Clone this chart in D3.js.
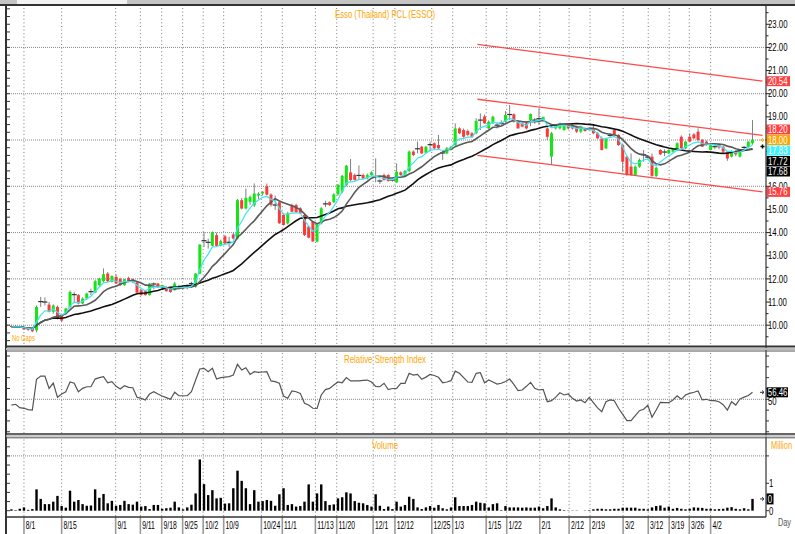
<!DOCTYPE html>
<html><head><meta charset="utf-8">
<script src="https://cdn.jsdelivr.net/npm/d3@7/dist/d3.min.js"></script>
<style>
body{margin:0;background:#fff;}
svg{display:block;}
text{font-family:"Liberation Sans",Arial,sans-serif;}
</style></head><body>
<svg id="c" width="795" height="534"></svg>
<script>
// ---------------- DATA ----------------
const opens = [9.97,9.97,9.95,9.93,9.88,9.86,9.78,11.00,11.01,10.89,10.58,10.79,10.43,10.50,10.79,11.30,11.30,10.94,11.15,11.45,
11.41,11.73,11.90,12.23,11.87,12.09,11.99,11.73,12.04,11.99,11.85,11.51,11.47,11.30,11.80,11.80,11.63,11.61,11.61,11.51,
11.68,11.58,11.70,11.80,11.66,12.23,13.67,13.57,13.43,13.89,13.43,13.84,13.57,13.92,13.74,15.40,15.04,15.33,15.18,15.60,
15.69,16.00,15.64,15.20,15.31,14.76,14.40,15.19,15.19,15.05,14.76,14.26,14.47,13.61,14.40,15.26,15.31,15.31,15.65,15.77,
16.06,16.60,16.49,16.49,16.49,16.34,16.49,16.40,16.22,16.49,16.49,16.27,16.17,16.60,16.42,16.66,17.50,17.64,17.71,17.45,
17.81,17.86,17.78,17.42,17.42,17.57,17.78,18.50,18.43,18.39,18.29,18.29,18.86,19.01,18.50,18.72,18.65,18.72,18.79,19.08,
19.11,18.79,18.72,18.72,18.86,18.85,18.90,18.86,18.50,17.28,18.50,18.50,18.43,18.65,18.65,18.58,18.36,18.50,18.46,18.46,
18.29,18.07,17.64,18.22,18.43,18.22,17.78,17.28,16.85,16.49,16.85,17.35,17.30,17.28,16.45,17.57,17.50,17.42,17.50,17.57,
18.14,17.64,18.14,18.24,18.36,18.00,17.93,17.57,17.72,17.78,17.71,17.50,17.28,17.50,17.28,17.64,17.70,17.86];
const highs = [10.02,10.00,9.98,9.96,9.92,9.90,10.85,11.22,11.20,11.00,10.90,10.85,10.50,10.75,11.50,11.44,11.35,11.20,11.40,11.58,
11.95,12.05,12.45,12.30,12.15,12.20,12.05,12.00,12.10,12.02,11.90,11.55,11.50,11.82,11.85,11.82,11.75,11.68,11.66,11.87,
11.75,11.72,11.75,11.88,12.25,13.50,14.03,13.74,14.05,14.00,13.70,13.90,13.82,14.00,15.45,15.50,15.90,15.60,16.12,15.75,
15.80,16.12,15.70,15.60,15.37,14.85,14.90,15.25,15.25,15.10,14.85,14.30,14.50,14.40,15.10,15.37,15.35,15.70,16.10,16.50,
16.92,17.18,16.55,16.90,16.55,16.55,16.65,17.21,16.30,16.55,16.52,16.35,16.99,16.65,16.70,17.55,17.55,17.93,17.75,17.75,
17.93,17.90,18.22,17.57,17.70,17.75,18.72,18.55,18.50,18.45,18.35,18.94,19.15,19.10,18.85,19.05,18.75,18.85,19.25,19.51,
19.15,18.85,18.75,18.80,19.15,18.95,19.37,19.00,18.55,18.35,18.65,18.75,18.70,18.70,18.70,18.62,18.62,18.55,18.50,18.65,
18.35,18.15,18.10,18.30,18.50,18.25,17.85,17.30,17.42,16.90,17.20,17.57,17.35,17.42,16.85,17.60,17.60,17.60,17.65,17.90,
18.20,17.95,18.29,18.30,18.50,18.05,17.98,17.80,17.80,17.80,17.75,17.52,17.55,17.55,17.52,17.75,17.95,18.86];
const lows = [9.92,9.90,9.90,9.80,9.76,9.70,9.70,10.79,10.85,10.55,10.50,10.25,10.15,10.45,10.72,11.00,10.90,10.90,11.10,11.30,
11.38,11.70,11.85,11.85,11.85,11.78,11.70,11.70,11.85,11.82,11.38,11.28,11.28,11.28,11.55,11.62,11.58,11.45,11.40,11.50,
11.55,11.55,11.55,11.62,11.62,12.20,13.38,13.31,13.40,13.40,13.40,13.50,13.38,13.70,13.70,15.00,15.00,15.20,15.10,15.45,
15.60,15.60,15.12,14.98,14.38,14.30,14.35,14.88,14.85,14.80,13.85,13.75,13.60,13.58,14.35,15.10,15.15,15.28,15.60,15.70,
16.00,16.23,16.25,16.30,16.30,16.30,16.45,16.17,16.10,16.25,16.20,16.20,16.15,16.45,16.40,16.60,17.30,17.42,17.40,17.42,
17.50,17.60,17.60,17.14,17.40,17.55,17.75,18.25,18.10,18.18,18.10,18.25,18.43,18.70,18.45,18.70,18.50,18.60,18.75,18.86,
18.75,18.50,18.55,18.45,18.60,18.70,18.65,18.82,18.00,16.92,18.45,18.45,18.40,18.45,18.45,18.30,18.30,18.36,18.40,18.25,
18.05,17.55,17.60,18.10,18.20,17.75,16.63,16.45,16.45,16.45,16.80,17.06,17.20,16.42,16.40,17.35,17.30,17.40,17.45,17.55,
17.60,17.60,17.90,18.05,17.95,17.70,17.75,17.55,17.60,17.60,17.40,17.10,17.25,17.30,17.25,17.55,17.65,17.80];
const closes = [9.93,9.92,9.94,9.82,9.80,9.74,10.79,11.02,11.00,10.58,10.85,10.29,10.20,10.72,11.44,11.32,10.94,11.15,11.37,11.45,
11.90,12.02,12.20,11.90,12.13,11.80,11.73,11.99,11.87,11.87,11.41,11.30,11.30,11.80,11.78,11.66,11.73,11.47,11.44,11.80,
11.58,11.68,11.60,11.80,12.23,13.48,13.65,13.58,14.00,13.43,13.63,13.53,13.58,13.74,15.40,15.04,15.50,15.54,15.69,15.68,
15.76,15.64,15.20,15.19,14.40,14.33,14.83,14.90,14.88,14.83,13.90,13.78,13.62,14.36,15.05,15.24,15.19,15.65,16.06,16.45,
16.89,16.27,16.27,16.47,16.34,16.49,16.60,16.42,16.23,16.27,16.23,16.27,16.63,16.49,16.66,17.50,17.35,17.62,17.42,17.71,
17.80,17.64,17.64,17.44,17.64,17.71,18.50,18.29,18.14,18.22,18.14,18.82,18.86,18.72,18.79,19.01,18.64,18.72,19.08,19.10,
18.79,18.50,18.58,18.50,19.12,18.86,18.92,19.00,18.14,18.29,18.65,18.72,18.65,18.50,18.50,18.36,18.58,18.39,18.46,18.29,
18.07,17.57,18.07,18.20,18.24,17.78,17.06,16.49,16.49,16.85,17.14,17.36,17.26,16.45,16.80,17.38,17.48,17.57,17.64,17.86,
17.64,17.93,17.93,18.07,18.00,17.71,17.78,17.78,17.71,17.68,17.50,17.20,17.50,17.38,17.55,17.68,17.93,18.00];
const rsi = [44.7,45.4,42.3,41.7,40.5,40.0,68.5,71.5,71.4,60,65,52,54.9,57,66,64.8,57,60.1,61.6,61.6,
68.7,70,71,65.3,66.3,62,59.5,62.6,61,60.7,51.8,50.9,49.4,55,57,54.9,53,51.5,50,56.5,
53.3,53.3,53.3,57,67.8,78,78.6,75.5,78.6,68.7,70,70.5,71,72.4,82.3,77,79.2,73,75.5,74.9,
75.2,75.5,67,66.3,64.8,53,51,57.7,57,55.5,46.3,44.7,41.7,41.5,54,59,60.1,63.2,66,65.3,
70,67,67,67,67.5,67.8,66,62,61.6,64.8,59,60,60.1,64.8,64.8,74,72.4,73,68.5,70.5,
73,72,70.3,65.3,66,67.2,76,74,70,66,65.7,74,74.6,65.3,67.8,66,64,64.8,66.5,68.7,
63.8,58,58.6,62,65.7,60.1,58.6,59.2,47.8,48.7,52,56,54,54.9,50.9,48.4,49.4,46.9,51.8,46.9,
42,38.6,47.8,49.4,48.7,41.7,36,30.3,30.3,35,39.5,40.8,44.5,33.4,40.1,47.2,46.9,46.9,49.4,53.3,
50,54,55.5,56.5,57.7,49.4,50,48.7,48.7,47.8,45,40,47.8,44.7,50.3,52,53.5,56.46];
const volume = [0.05,0.02,0.07,0.12,0.03,0.06,0.78,0.43,0.24,0.24,0.33,0.54,0.17,0.11,0.73,0.33,0.39,0.24,0.18,0.19,
0.78,0.47,0.61,0.27,0.36,0.18,0.21,0.36,0.24,0.22,0.33,0.15,0.17,0.06,0.21,0.21,0.07,0.09,0.11,0.33,
0.12,0.05,0.12,0.22,0.63,1.87,0.97,0.57,0.75,0.45,0.47,0.26,0.27,0.82,1.46,1.09,0.82,0.24,0.75,0.33,
0.35,0.39,0.36,0.18,0.60,0.82,0.21,0.24,0.15,0.17,0.33,0.96,0.33,0.63,0.96,0.35,0.21,0.23,0.45,0.49,
0.67,0.63,0.35,0.29,0.27,0.21,0.15,0.60,0.18,0.06,0.15,0.06,0.33,0.15,0.21,0.51,0.43,0.12,0.06,0.12,
0.17,0.11,0.21,0.09,0.05,0.12,0.49,0.17,0.17,0.17,0.21,0.33,0.29,0.27,0.12,0.24,0.27,0.02,0.17,0.12,
0.12,0.12,0.11,0.12,0.11,0.11,0.15,0.09,0.17,0.45,0.12,0.05,0.02,0.01,0.01,0.01,0.0,0.01,0.02,0.05,
0.07,0.07,0.05,0.05,0.07,0.07,0.11,0.11,0.11,0.11,0.07,0.07,0.05,0.12,0.17,0.19,0.11,0.15,0.07,0.10,
0.07,0.05,0.07,0.12,0.11,0.10,0.07,0.07,0.05,0.06,0.07,0.11,0.13,0.07,0.05,0.09,0.05,0.43];
// date tick labels and their (trading-day) positions
const dateLabels = ["8/1","8/15","9/1","9/11","9/18","9/25","10/2","10/9","10/24","11/1","11/13","11/20","12/1","12/12","12/25","1/3","1/15","1/22","2/1","2/12","2/19","3/2","3/12","3/19","3/26","4/2"];
const datePos = [3,12,24.9,30.8,35.9,40.9,45.8,50.7,59.7,64.7,72.6,77.7,86.4,91.6,100.4,105.4,113.4,118.3,126.2,133.2,138.2,146.1,152.1,157.1,161.9,167];
// price channel (trend lines): start/end day position and values
const channelPos = [111.3, 179.4];
const channelUpper = [22.13, 20.54];
const channelMiddle = [19.76, 18.20];
const channelLower = [17.34, 15.76];
// moving averages: [type, period]
const maDefs = [["ema",5],["sma",10],["sma",25]];
// right-edge value markers
const markerValues = [20.54, 18.20, 18.00, 17.83, 17.72, 17.68, 15.76];
const markerKinds = ["channel","channel","close","ma0","ma1","ma2","channel"];
const priceTicks = [10,11,12,13,14,15,16,17,18,19,20,21,22,23];
const priceGrid = [10,12,14,16,18,20,22];
const rsiLast = 56.46, volLast = 0.43;

// ---------------- STYLES / LAYOUT ----------------
const ORANGE = "#ffa500";
const NARROW = 0.78;
const markerColor = {channel:"#ff4040", close:"#ffa500", ma0:"#3ff0ff", ma1:"#000", ma2:"#000"};
const L = 7, R = 766;
const main = {top:6, bottom:346};
const rsiP = {top:351, bottom:434};
const volP = {top:437.5, bottom:517};

const svg = d3.select("#c");
const n = closes.length;
const x = d3.scaleLinear().domain([0, n-1]).range([11.4, 11.4 + (n-1)*4.187]);
const yP = d3.scaleLinear().domain([10,22]).range([325.2,47.4]);
const yR = d3.scaleLinear().domain([50,90]).range([399.3,356]);
const yV = d3.scaleLinear().domain([0,2]).range([510.7,455.9]);
const tr = (xx,yy,s)=>`translate(${xx},${yy}) scale(${s||NARROW},1)`;

// top strip
svg.append("rect").attr("x",0).attr("y",0).attr("width",795).attr("height",4.5).attr("fill","#c4c4c4");
svg.append("rect").attr("x",17).attr("y",0).attr("width",110).attr("height",4).attr("fill","#f2f2f2");

function clip(id, p){ svg.append("clipPath").attr("id",id).append("rect").attr("x",L).attr("y",p.top).attr("width",R-L).attr("height",p.bottom-p.top); }
clip("cm", main); clip("cr", rsiP); clip("cv", volP);

// vertical dotted gridlines in every panel
[main, rsiP, volP].forEach(p=>{
  svg.append("g").selectAll("line").data(datePos).join("line")
    .attr("x1",d=>x(d)).attr("x2",d=>x(d)).attr("y1",p.top+2).attr("y2",p.bottom)
    .attr("stroke","#7a7a7a").attr("stroke-width",1).attr("stroke-dasharray","1,2.6");
});
svg.append("g").selectAll("line").data(priceGrid).join("line")
  .attr("x1",L).attr("x2",R).attr("y1",d=>yP(d)).attr("y2",d=>yP(d))
  .attr("stroke","#888").attr("stroke-dasharray","1,1");
svg.append("line").attr("x1",L).attr("x2",R).attr("y1",yR(50)).attr("y2",yR(50)).attr("stroke","#888").attr("stroke-dasharray","1,1");
svg.append("line").attr("x1",L).attr("x2",R).attr("y1",yV(2)).attr("y2",yV(2)).attr("stroke","#888").attr("stroke-dasharray","1,1");

// ---------------- MAIN PANEL ----------------
const gm = svg.append("g").attr("clip-path","url(#cm)");
[channelUpper, channelMiddle, channelLower].forEach(vals=>{
  gm.append("line").attr("x1",x(channelPos[0])).attr("x2",x(channelPos[1]))
    .attr("y1",yP(vals[0])).attr("y2",yP(vals[1])).attr("stroke","#ff4a4a").attr("stroke-width",1.3);
});
// candles
const idx = d3.range(n);
gm.append("g").selectAll("line").data(idx).join("line")
  .attr("x1",i=>x(i)).attr("x2",i=>x(i)).attr("y1",i=>yP(highs[i])).attr("y2",i=>yP(lows[i]))
  .attr("stroke","#808080").attr("stroke-width",1);
const bodies = idx.filter(i=>Math.abs(closes[i]-opens[i])>=0.04);
const dojis = idx.filter(i=>Math.abs(closes[i]-opens[i])<0.04);
gm.append("g").selectAll("rect").data(bodies).join("rect")
  .attr("x",i=>x(i)-1.5).attr("width",3)
  .attr("y",i=>yP(Math.max(opens[i],closes[i])))
  .attr("height",i=>Math.max(1.2, yP(Math.min(opens[i],closes[i]))-yP(Math.max(opens[i],closes[i]))))
  .attr("fill",i=>closes[i]>opens[i]?"#14e614":"#ff3838");
gm.append("g").selectAll("line").data(dojis).join("line")
  .attr("x1",i=>x(i)-2.5).attr("x2",i=>x(i)+2.5).attr("y1",i=>yP(closes[i])).attr("y2",i=>yP(closes[i]))
  .attr("stroke","#333").attr("stroke-width",1.2);
// moving averages (computed from closes), drawn over candles
function sma(arr, p){ return arr.map((d,i)=>d3.mean(arr.slice(Math.max(0,i-p+1), i+1))); }
function ema(arr, p){ const a=2/(p+1); let e=arr[0]; return arr.map(v=>(e=e+a*(v-e))); }
const maStyles = [{c:"#3ee4f4",w:1.2},{c:"#5a5a5a",w:1.6},{c:"#111",w:1.6}];
const mas = maDefs.map(d=>d[0]==="ema"?ema(closes,d[1]):sma(closes,d[1]));
[2,1,0].forEach(k=>{
  gm.append("path").datum(mas[k]).attr("fill","none").attr("stroke",maStyles[k].c).attr("stroke-width",maStyles[k].w)
    .attr("d", d3.line().x((d,i)=>x(i)).y(d=>yP(d)));
});

// left minor ticks (main)
svg.append("g").selectAll("line").data(d3.range(28,72).map(k=>k/3)).join("line")
  .attr("x1",L).attr("x2",L+3).attr("y1",d=>yP(d)).attr("y2",d=>yP(d)).attr("stroke","#333");
// right axis (main)
svg.append("g").selectAll("line").data(d3.range(19,48).map(k=>k/2)).join("line")
  .attr("x1",R).attr("x2",d=>Number.isInteger(d)?R+4:R+2.5).attr("y1",d=>yP(d)).attr("y2",d=>yP(d)).attr("stroke","#222");

// value markers with simple collision layout anchored on close marker
const mh = 10.5;
const anchor = markerKinds.indexOf("close");
const my = markerValues.map(v=>yP(v));
for(let k=anchor-1;k>=0;k--) my[k]=Math.min(my[k], my[k+1]-mh);
for(let k=anchor+1;k<markerValues.length;k++) my[k]=Math.max(my[k], my[k-1]+mh);
// tick labels: skip those fully hidden behind a marker box
const visibleTicks = priceTicks.filter(t=>!my.some(m=>Math.abs(m-yP(t))<4));
svg.append("g").selectAll("text").data(visibleTicks).join("text")
  .attr("transform",d=>tr(R+2,yP(d)+3.6)).attr("font-size",10).attr("fill","#000")
  .text(d=>d3.format(".2f")(d));
const mg = svg.append("g");
markerValues.forEach((v,k)=>{
  mg.append("rect").attr("x",R+0.5).attr("y",my[k]-5).attr("width",23.5).attr("height",10).attr("fill",markerColor[markerKinds[k]]);
  mg.append("text").attr("transform",tr(R+2,my[k]+3.6)).attr("font-size",10).attr("fill","#fff").text(d3.format(".2f")(v));
});
function arrow(yy,color){
  svg.append("path").attr("d",`M${R-6},${yy}L${R-2},${yy}M${R-4},${yy-1.8}L${R-2},${yy}L${R-4},${yy+1.8}`)
    .attr("stroke",color).attr("fill","none").attr("stroke-width",1);
}
arrow(yP(closes[n-1]), ORANGE);
svg.append("path").attr("d",`M${R-5.5},${yP(markerValues[4])}h4M${R-3.5},${yP(markerValues[4])-2}v4`).attr("stroke","#000").attr("stroke-width",1.4);

svg.append("text").attr("x",335).attr("y",18).attr("font-size",10.5).attr("fill",ORANGE)
  .attr("textLength",100).attr("lengthAdjust","spacingAndGlyphs").text("Esso (Thailand) PCL (ESSO)");
svg.append("text").attr("x",12).attr("y",341).attr("font-size",9).attr("fill",ORANGE)
  .attr("textLength",23).attr("lengthAdjust","spacingAndGlyphs").text("No Gaps");

// ---------------- RSI PANEL ----------------
const gr = svg.append("g").attr("clip-path","url(#cr)");
gr.append("path").datum(rsi).attr("fill","none").attr("stroke","#555").attr("stroke-width",1.2)
  .attr("d", d3.line().x((d,i)=>x(i)).y(d=>yR(d)));
const rsiTicks = [20,30,40,50,60,70,80,90];
svg.append("g").selectAll("line").data(rsiTicks).join("line")
  .attr("x1",L).attr("x2",L+3).attr("y1",d=>yR(d)).attr("y2",d=>yR(d)).attr("stroke","#333");
svg.append("g").selectAll("line").data(rsiTicks).join("line")
  .attr("x1",R).attr("x2",R+3).attr("y1",d=>yR(d)).attr("y2",d=>yR(d)).attr("stroke","#333");
svg.append("text").attr("transform",tr(R+2,yR(50)+5.5)).attr("font-size",10).attr("fill","#000").text("50");
svg.append("rect").attr("x",R+0.5).attr("y",yR(rsiLast)-5).attr("width",21.5).attr("height",10).attr("fill","#000");
svg.append("text").attr("transform",tr(R+1.8,yR(rsiLast)+3.6)).attr("font-size",10).attr("fill","#fff").text(d3.format(".2f")(rsiLast));
arrow(yR(rsiLast), "#333");
svg.append("text").attr("x",344).attr("y",363).attr("font-size",10.5).attr("fill",ORANGE)
  .attr("textLength",82).attr("lengthAdjust","spacingAndGlyphs").text("Relative Strength Index");

// ---------------- VOLUME PANEL ----------------
const gv = svg.append("g").attr("clip-path","url(#cv)");
gv.append("g").selectAll("rect").data(idx).join("rect")
  .attr("x",i=>x(i)-1.2).attr("width",2.4)
  .attr("y",i=>yV(volume[i])).attr("height",i=>yV(0)-yV(volume[i])).attr("fill","#000");
svg.append("g").selectAll("line").data(d3.range(0,8).map(k=>k/3)).join("line")
  .attr("x1",L).attr("x2",L+3).attr("y1",d=>yV(d)).attr("y2",d=>yV(d)).attr("stroke","#333");
svg.append("g").selectAll("line").data([0,1,2]).join("line")
  .attr("x1",R).attr("x2",R+3).attr("y1",d=>yV(d)).attr("y2",d=>yV(d)).attr("stroke","#333");
svg.append("g").selectAll("text").data([0,1]).join("text")
  .attr("transform",d=>tr(R+3,yV(d)+4)).attr("font-size",10).attr("fill","#000").text(d=>d);
svg.append("rect").attr("x",R+0.5).attr("y",yV(volLast)-5.5).attr("width",7).attr("height",11).attr("fill","#000");
svg.append("text").attr("transform",tr(R+1.8,yV(volLast)+3.6)).attr("font-size",10).attr("fill","#fff").text(d3.format(".0f")(volLast));
arrow(yV(volLast), "#333");
svg.append("text").attr("x",372).attr("y",449).attr("font-size",10.5).attr("fill",ORANGE)
  .attr("textLength",26).attr("lengthAdjust","spacingAndGlyphs").text("Volume");
svg.append("text").attr("x",771).attr("y",449).attr("font-size",10).attr("fill",ORANGE)
  .attr("textLength",21).attr("lengthAdjust","spacingAndGlyphs").text("Million");

// ---------------- DATE AXIS ----------------
svg.append("g").selectAll("line").data(datePos).join("line")
  .attr("x1",d=>x(d)).attr("x2",d=>x(d)).attr("y1",volP.bottom).attr("y2",534)
  .attr("stroke","#9a9a9a").attr("stroke-width",1.6);
svg.append("g").selectAll("text").data(dateLabels).join("text")
  .attr("transform",(d,i)=>tr(x(datePos[i])+1.8,529,0.68)).attr("font-size",10).attr("fill","#000").text(d=>d);
svg.append("text").attr("x",778).attr("y",526).attr("font-size",10).attr("fill","#555")
  .attr("textLength",13).attr("lengthAdjust","spacingAndGlyphs").text("Day");

// ---------------- FRAMES ----------------
const fr = svg.append("g");
fr.append("line").attr("x1",0).attr("x2",795).attr("y1",5).attr("y2",5).attr("stroke","#333").attr("stroke-width",2);
fr.append("line").attr("x1",6).attr("x2",6).attr("y1",5).attr("y2",534).attr("stroke","#333").attr("stroke-width",2);
fr.append("line").attr("x1",R).attr("x2",R).attr("y1",5).attr("y2",volP.bottom).attr("stroke","#333").attr("stroke-width",1.2);
[[346.5,"#333",2],[349,"#bbb",2],[351,"#555",1],[434,"#333",1.5],[436,"#bbb",1.5],[437.8,"#555",1]].forEach(s=>{
  fr.append("line").attr("x1",6).attr("x2",795).attr("y1",s[0]).attr("y2",s[0]).attr("stroke",s[1]).attr("stroke-width",s[2]);
});
fr.append("line").attr("x1",6).attr("x2",R).attr("y1",volP.bottom).attr("y2",volP.bottom).attr("stroke","#333").attr("stroke-width",1.5);
</script>
</body></html>
